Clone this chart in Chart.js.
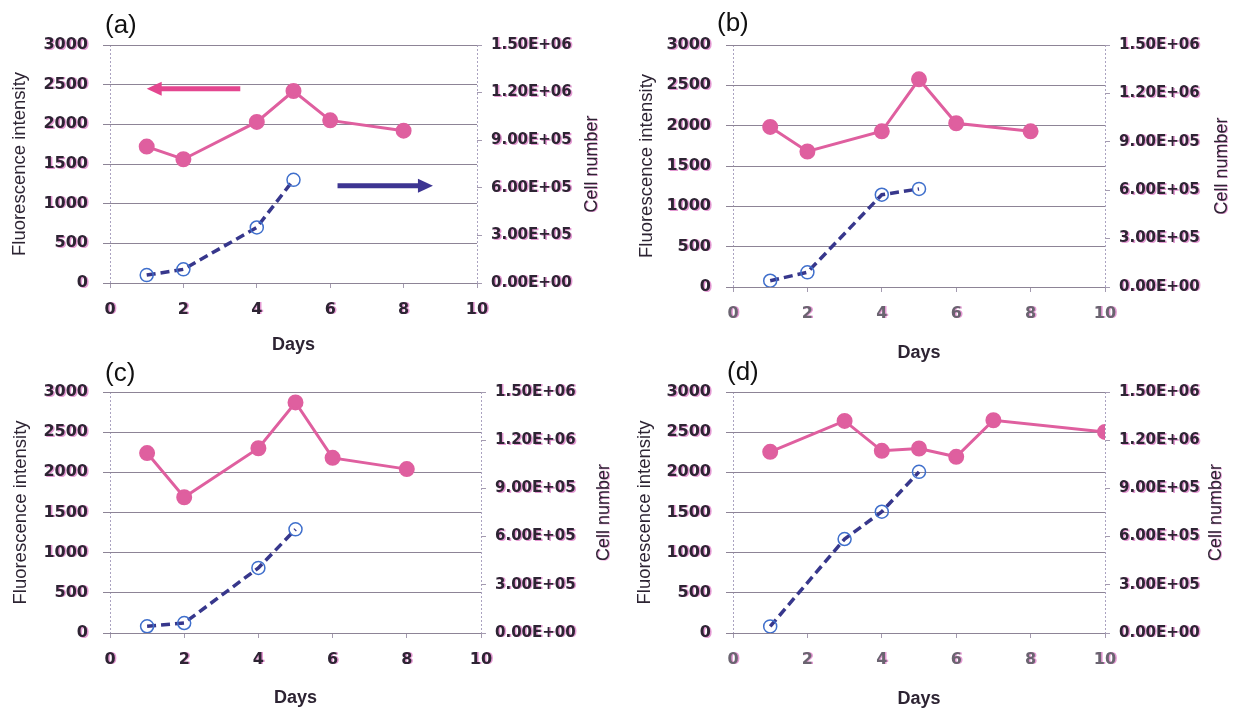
<!DOCTYPE html>
<html>
<head>
<meta charset="utf-8">
<script src="https://cdn.jsdelivr.net/npm/chart.js@4.4.1/dist/chart.umd.min.js"></script>
<style>
  html, body { margin: 0; padding: 0; background: #fff; }
  body { width: 1240px; height: 711px; position: relative; overflow: hidden; }
  .panel { position: absolute; }
</style>
</head>
<body>
<div class="panel" style="left:0;top:0;width:620px;height:365px"><canvas id="chartA"></canvas></div>
<div class="panel" style="left:620px;top:0;width:620px;height:370px"><canvas id="chartB"></canvas></div>
<div class="panel" style="left:0;top:355px;width:620px;height:356px"><canvas id="chartC"></canvas></div>
<div class="panel" style="left:620px;top:355px;width:620px;height:356px"><canvas id="chartD"></canvas></div>
<script>
// ── Data ──────────────────────────────────────
const dayTicks   = [0, 2, 4, 6, 8, 10];
const fluorTicks = [0, 500, 1000, 1500, 2000, 2500, 3000];
const cellTicks  = [0, 300000, 600000, 900000, 1200000, 1500000];

const daysA     = [1, 2, 4, 5, 6, 8];
const fluorA    = [1720, 1560, 2030, 2420, 2050, 1920];
const cellDaysA = [1, 2, 4, 5];
const cellsA    = [50000, 86000, 350000, 650000];

const daysB     = [1, 2, 4, 5, 6, 8];
const fluorB    = [1985, 1680, 1930, 2575, 2030, 1930];
const cellDaysB = [1, 2, 4, 5];
const cellsB    = [39000, 91000, 572000, 608000];

const daysC     = [1, 2, 4, 5, 6, 8];
const fluorC    = [2240, 1690, 2300, 2870, 2180, 2040];
const cellDaysC = [1, 2, 4, 5];
const cellsC    = [42000, 62000, 405000, 645000];

const daysD     = [1, 3, 4, 5, 6, 7, 10];
const fluorD    = [2255, 2640, 2268, 2297, 2193, 2648, 2503];
const cellDaysD = [1, 3, 4, 5];
const cellsD    = [41000, 585000, 755000, 1003000];

// arrows in panel (a), in data units (day, fluorescence)
const arrowTailsA = [[3.55, 2450], [6.2, 1225]];
const arrowHeadsA = [[1.0, 2450], [8.8, 1225]];

// ── Styles ────────────────────────────────────
const PINK  = '#df5f9f';
const NAVY  = '#37378c';
const RING  = '#3f6fcc';
const TXT   = '#2d2433';
const GRID  = '#8d8496';
const GHOST = 'rgba(205,70,175,0.55)';
const TICKFONT = { family: 'DejaVu Sans', size: 16, weight: 'bold' };

Chart.defaults.font.family = 'Liberation Sans, Arial, sans-serif';

function fmtE(v) {
  const [m, e] = Number(v).toExponential(2).split('e');
  return m + 'E' + e[0] + e.slice(1).padStart(2, '0');
}

// pinkish ghost on the tick text (labels are drawn after the datasets, z: 1)
const textGhost = {
  id: 'textGhost',
  afterDatasetsDraw(chart) {
    const ctx = chart.ctx;
    ctx.shadowColor = GHOST;
    ctx.shadowOffsetX = 1.5;
    ctx.shadowOffsetY = 0.5;
    ctx.shadowBlur = 0;
  }
};

const panelText = {
  id: 'panelText',
  afterDraw(chart, args, opts) {
    const { ctx, chartArea } = chart;
    ctx.save();
    ctx.shadowColor = 'rgba(0,0,0,0)';
    ctx.fillStyle = '#111';
    ctx.font = '26px Liberation Sans, Arial';
    ctx.textBaseline = 'middle';
    ctx.fillText(opts.text, chartArea.left + opts.dx, chartArea.top + opts.dy);
    // right-axis title, reading bottom to top
    ctx.shadowColor = GHOST;
    ctx.shadowOffsetX = 1.5;
    ctx.fillStyle = TXT;
    ctx.font = '18px Liberation Sans, Arial';
    ctx.textAlign = 'center';
    ctx.translate(chart.width - opts.rightOffset, (chartArea.top + chartArea.bottom) / 2);
    ctx.rotate(-Math.PI / 2);
    ctx.fillText('Cell number', 0, 0);
    ctx.restore();
  }
};

const arrows = {
  id: 'arrows',
  afterDatasetsDraw(chart, args, opts) {
    if (!opts.tails) return;
    const { ctx, scales: { x, y } } = chart;
    ctx.save();
    opts.tails.forEach((t, i) => {
      const h = opts.heads[i];
      const x1 = x.getPixelForValue(t[0]), y1 = y.getPixelForValue(t[1]);
      const x2 = x.getPixelForValue(h[0]), y2 = y.getPixelForValue(h[1]);
      const dir = Math.sign(x2 - x1);
      ctx.strokeStyle = ctx.fillStyle = opts.colors[i];
      ctx.lineWidth = 5;
      ctx.beginPath();
      ctx.moveTo(x1, y1);
      ctx.lineTo(x2 - dir * 12, y2);
      ctx.stroke();
      ctx.beginPath();
      ctx.moveTo(x2, y2);
      ctx.lineTo(x2 - dir * 15, y2 - 7);
      ctx.lineTo(x2 - dir * 15, y2 + 7);
      ctx.closePath();
      ctx.fill();
    });
    ctx.restore();
  }
};

function setTicks(list) {
  return s => { s.ticks = list.map(v => ({ value: v })); };
}

function makePanel(id, p) {
  new Chart(document.getElementById(id), {
    type: 'line',
    data: {
      datasets: [
        {
          label: 'Fluorescence intensity',
          data: p.days.map((d, i) => ({ x: d, y: p.fluor[i] })),
          yAxisID: 'y',
          borderColor: PINK,
          backgroundColor: PINK,
          borderWidth: 3,
          pointRadius: 6.5,
          pointBackgroundColor: PINK,
          pointBorderColor: PINK,
          tension: 0
        },
        {
          label: 'Cell number',
          data: p.cellDays.map((d, i) => ({ x: d, y: p.cells[i] })),
          yAxisID: 'y2',
          borderColor: NAVY,
          borderDash: [9, 5],
          borderWidth: 3.5,
          pointRadius: 6.5,
          pointBackgroundColor: 'rgba(255,255,255,0)',
          pointBorderColor: RING,
          pointBorderWidth: 1.5,
          tension: 0
        }
      ]
    },
    options: {
      responsive: true,
      maintainAspectRatio: false,
      animation: false,
      layout: { padding: { top: p.top, left: 0, right: 0, bottom: 0 } },
      plugins: {
        legend: { display: false },
        tooltip: { enabled: false },
        panelText: { text: p.label, dx: p.labelDx, dy: p.labelDy, rightOffset: p.rtOff },
        arrows: { tails: p.tails, heads: p.heads, colors: ['#e4468f', '#3d3592'] }
      },
      scales: {
        x: {
          type: 'linear',
          min: 0,
          max: 10,
          afterBuildTicks: setTicks(dayTicks),
          afterFit: s => { s.height = p.xh; },
          grid: {
            drawOnChartArea: true,
            color: c => (c.tick && (c.tick.value === 0 || c.tick.value === 10)) ? '#aaa2c0' : 'rgba(0,0,0,0)',
            tickLength: 5,
            tickColor: '#a49bb0'
          },
          border: { display: false, dash: [2, 2] },
          ticks: { z: 1, padding: 12, color: p.xTickColor, font: TICKFONT, maxRotation: 0 },
          title: {
            display: true, text: 'Days', color: TXT,
            font: { size: 18, weight: 'bold' },
            padding: { top: 0, bottom: p.daysPad }
          }
        },
        y: {
          position: 'left',
          min: 0,
          max: 3000,
          afterBuildTicks: setTicks(fluorTicks),
          afterFit: s => { s.width = p.lw; },
          grid: { color: GRID, lineWidth: 1, tickLength: 7, tickColor: GRID },
          border: { display: false },
          ticks: { z: 1, padding: 15, color: TXT, font: TICKFONT, callback: v => String(v) },
          title: {
            display: true, text: 'Fluorescence intensity', color: TXT,
            font: { size: 18.5 },
            padding: { top: p.ltPad, bottom: 0 }
          }
        },
        y2: {
          position: 'right',
          min: 0,
          max: 1500000,
          afterBuildTicks: setTicks(cellTicks),
          afterFit: s => { s.width = p.rw; },
          grid: { drawOnChartArea: false, tickLength: 5, tickColor: '#a49bb0', color: '#a49bb0' },
          border: { display: false },
          ticks: { z: 1, padding: 9, color: TXT, font: { family: 'DejaVu Sans', size: 15, weight: 'bold' }, callback: fmtE },
          title: { display: false }
        }
      }
    },
    plugins: [arrows, textGhost, panelText]
  });
}

makePanel('chartA', {
  days: daysA, fluor: fluorA, cellDays: cellDaysA, cells: cellsA,
  top: 45, lw: 110, rw: 143, xh: 82, ltPad: 9, rtOff: 28, daysPad: 9,
  label: '(a)', labelDx: -5, labelDy: -19, xTickColor: TXT,
  tails: arrowTailsA, heads: arrowHeadsA
});
makePanel('chartB', {
  days: daysB, fluor: fluorB, cellDays: cellDaysB, cells: cellsB,
  top: 45, lw: 113, rw: 135, xh: 83, ltPad: 16, rtOff: 18, daysPad: 6,
  label: '(b)', labelDx: -16, labelDy: -21, xTickColor: '#6a6470'
});
makePanel('chartC', {
  days: daysC, fluor: fluorC, cellDays: cellDaysC, cells: cellsC,
  top: 37, lw: 110, rw: 139, xh: 78, ltPad: 10, rtOff: 16, daysPad: 2,
  label: '(c)', labelDx: -5, labelDy: -18, xTickColor: TXT
});
makePanel('chartD', {
  days: daysD, fluor: fluorD, cellDays: cellDaysD, cells: cellsD,
  top: 37, lw: 113, rw: 135, xh: 78, ltPad: 14, rtOff: 24, daysPad: 1,
  label: '(d)', labelDx: -6, labelDy: -19, xTickColor: '#6a6470'
});
</script>
</body>
</html>
